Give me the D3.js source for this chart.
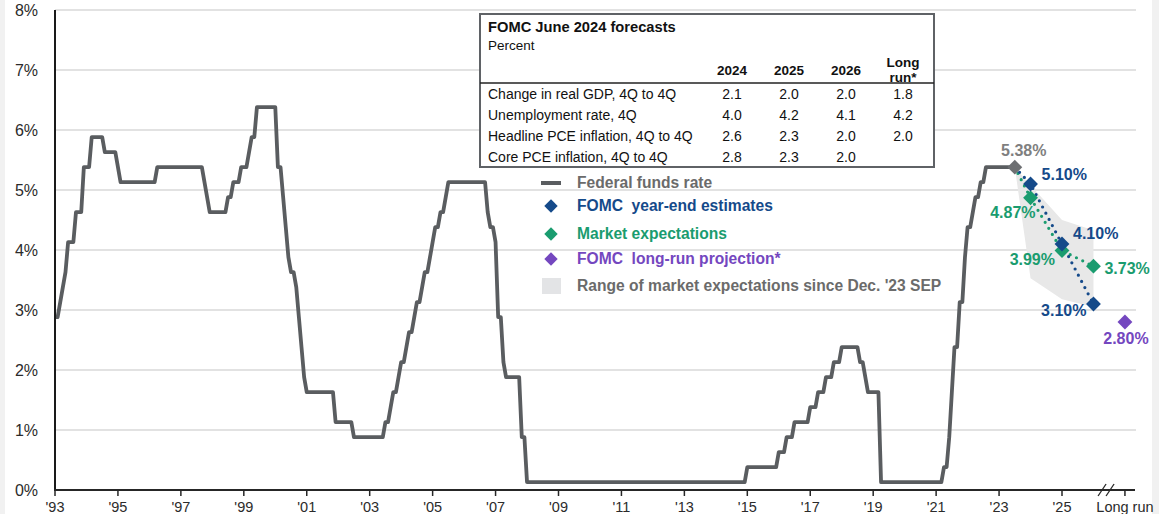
<!DOCTYPE html>
<html>
<head>
<meta charset="utf-8">
<script src="https://cdn.jsdelivr.net/npm/d3@7"></script>
<style>
  html, body { margin: 0; padding: 0; background: #fff; }
  svg { display: block; font-family: "Liberation Sans", Arial, sans-serif; }
</style>
</head>
<body>
<svg id="chart"></svg>
<script>
// Federal funds rate (midpoint of target), month of each change and level after it
const ffrMonths = [
  '1993-12', '1994-02', '1994-03', '1994-04', '1994-05', '1994-08', '1994-11',
  '1995-02', '1995-07', '1995-12', '1996-01', '1997-03', '1998-09', '1998-10',
  '1998-11', '1999-06', '1999-08', '1999-11', '2000-02', '2000-03', '2000-05',
  '2001-01', '2001-03', '2001-04', '2001-05', '2001-06', '2001-08', '2001-09',
  '2001-10', '2001-11', '2001-12', '2002-11', '2003-06', '2004-06', '2004-08',
  '2004-09', '2004-11', '2004-12', '2005-02', '2005-03', '2005-05', '2005-06',
  '2005-08', '2005-09', '2005-11', '2005-12', '2006-01', '2006-03', '2006-05',
  '2006-06', '2007-09', '2007-10', '2007-12', '2008-01', '2008-03', '2008-04',
  '2008-10', '2008-12', '2015-12', '2016-12', '2017-03', '2017-06', '2017-12',
  '2018-03', '2018-06', '2018-09', '2018-12', '2019-07', '2019-09', '2019-10',
  '2020-03', '2022-03', '2022-05', '2022-06', '2022-07', '2022-09', '2022-11',
  '2022-12', '2023-02', '2023-03', '2023-05', '2023-07'
];
const ffrLevels = [
  2.88, 3.13, 3.38, 3.63, 4.13, 4.63, 5.38,
  5.88, 5.63, 5.38, 5.13, 5.38, 5.13, 4.88,
  4.63, 4.88, 5.13, 5.38, 5.63, 5.88, 6.38,
  5.38, 4.88, 4.38, 3.88, 3.63, 3.38, 2.88,
  2.38, 1.88, 1.63, 1.13, 0.88, 1.13, 1.38,
  1.63, 1.88, 2.13, 2.38, 2.63, 2.88, 3.13,
  3.38, 3.63, 3.88, 4.13, 4.38, 4.63, 4.88,
  5.13, 4.63, 4.38, 4.13, 2.88, 2.13, 1.88,
  0.88, 0.13, 0.38, 0.63, 0.88, 1.13, 1.38,
  1.63, 1.88, 2.13, 2.38, 2.13, 1.88, 1.63,
  0.13, 0.38, 0.88, 1.63, 2.38, 3.13, 3.88,
  4.38, 4.63, 4.88, 5.13, 5.38
];
const ffrLastMonth = '2024-06';
const ffrLast = 5.38;

// projections (year-end)
const projMonths = ['2024-12', '2025-12', '2026-12'];
const fomcEstimates = [5.10, 4.10, 3.10];
const marketExpect = [4.87, 3.99, 3.73];
const longRunValue = 2.80;

// range of market expectations since Dec. '23 SEP
const rangeMonths = ['2024-06', '2024-12', '2025-12', '2026-12'];
const rangeHigh = [5.38, 5.08, 4.50, 4.33];
const rangeLow = [5.38, 3.53, 3.18, 3.05];

// axes
const yTicks = [0, 1, 2, 3, 4, 5, 6, 7, 8];
const xTickYears = [1993, 1995, 1997, 1999, 2001, 2003, 2005, 2007, 2009, 2011,
  2013, 2015, 2017, 2019, 2021, 2023, 2025];
const longRunLabel = 'Long run';

// table
const tableTitle = 'FOMC June 2024 forecasts';
const tableUnit = 'Percent';
const tableCols = ['2024', '2025', '2026', 'Long run*'];
const tableRows = ['Change in real GDP, 4Q to 4Q', 'Unemployment rate, 4Q',
  'Headline PCE inflation, 4Q to 4Q', 'Core PCE inflation, 4Q to 4Q'];
const tableValues = [
  ['2.1', '2.0', '2.0', '1.8'],
  ['4.0', '4.2', '4.1', '4.2'],
  ['2.6', '2.3', '2.0', '2.0'],
  ['2.8', '2.3', '2.0', '']
];

// legend
const legendItems = [
  { label: 'Federal funds rate', kind: 'line', color: '#5a5d60', text: '#6b6b6b' },
  { label: 'FOMC  year-end estimates', kind: 'diamond', color: '#154a8a', text: '#154a8a' },
  { label: 'Market expectations', kind: 'diamond', color: '#1a9c6f', text: '#1a9c6f' },
  { label: 'FOMC  long-run projection*', kind: 'diamond', color: '#7447bf', text: '#7447bf' },
  { label: "Range of market expectations since Dec. '23 SEP", kind: 'box', color: '#e3e4e6', text: '#6b6b6b' }
];

const W = 1159, H = 514;
const colors = { ffr: '#5a5d60', fomc: '#154a8a', market: '#1a9c6f', longRun: '#7447bf', range: '#e8e8e8', grid: '#d9d9d9' };

// month "YYYY-MM" -> decimal year at month end
const monthPos = s => {
  const [y, m] = s.split('-').map(Number);
  return y + m / 12;
};
const longRunPos = 2028;

const svg = d3.select('#chart').attr('width', W).attr('height', H);

svg.append('rect').attr('width', W).attr('height', H).attr('fill', '#f1f1f1');
svg.append('rect').attr('x', 5).attr('width', 1147).attr('height', H).attr('fill', '#fff');

const x = d3.scaleLinear().domain([1994, 2026]).range([55, 1062]);
const y = d3.scaleLinear().domain([0, 8]).range([490, 10]);

// gridlines
svg.append('g').selectAll('line')
  .data(yTicks.filter(d => d > 0))
  .enter().append('line')
    .attr('x1', x(1994)).attr('x2', 1136)
    .attr('y1', d => y(d)).attr('y2', d => y(d))
    .attr('stroke', colors.grid).attr('stroke-width', 1.3);

// y labels
svg.append('g').selectAll('text')
  .data(yTicks)
  .enter().append('text')
    .attr('x', 38).attr('y', d => y(d))
    .attr('dy', '0.35em')
    .attr('text-anchor', 'end')
    .attr('font-size', 16)
    .attr('fill', '#2b2b2b')
    .text(d => d + '%');

// range polygon
const rangePts = rangeMonths.map((m, i) => [x(monthPos(m)), y(rangeLow[i])])
  .concat(rangeMonths.map((m, i) => [x(monthPos(m)), y(rangeHigh[i])]).reverse());
svg.append('path')
  .attr('d', d3.line()(rangePts) + 'Z')
  .attr('fill', colors.range);

// fed funds line: hold each level until the month before the next change
const ffrPts = [[monthPos(ffrMonths[0]), ffrLevels[0]]];
for (let i = 1; i < ffrMonths.length; i++) {
  const t = monthPos(ffrMonths[i]);
  ffrPts.push([t - 1 / 12, ffrLevels[i - 1]]);
  ffrPts.push([t, ffrLevels[i]]);
}
ffrPts.push([monthPos(ffrLastMonth), ffrLast]);

svg.append('path')
  .attr('d', d3.line().x(d => x(d[0])).y(d => y(d[1]))(ffrPts))
  .attr('fill', 'none')
  .attr('stroke', colors.ffr)
  .attr('stroke-width', 3.8)
  .attr('stroke-linejoin', 'round');

// axes lines
svg.append('line')
  .attr('x1', x(1994)).attr('x2', x(1994))
  .attr('y1', y(8)).attr('y2', y(0) + 1)
  .attr('stroke', '#1a1a1a').attr('stroke-width', 2);
svg.append('line')
  .attr('x1', x(1994) - 1).attr('x2', 1135)
  .attr('y1', y(0)).attr('y2', y(0))
  .attr('stroke', '#262626').attr('stroke-width', 2.2);

const xTicks = svg.append('g').selectAll('g')
  .data(xTickYears)
  .enter().append('g')
    .attr('transform', d => `translate(${x(d + 1)},${y(0)})`);
xTicks.append('line').attr('y2', 6).attr('stroke', '#262626').attr('stroke-width', 1.5);
xTicks.append('text')
  .attr('y', 17).attr('dy', '0.35em')
  .attr('text-anchor', 'middle')
  .attr('font-size', 14.5)
  .attr('fill', '#2b2b2b')
  .text(d => "'" + String(d % 100).padStart(2, '0'));

// long run tick and axis break
const lrx = x(longRunPos);
svg.append('line').attr('x1', lrx).attr('x2', lrx).attr('y1', y(0)).attr('y2', y(0) + 6)
  .attr('stroke', '#262626').attr('stroke-width', 1.5);
svg.append('text')
  .attr('x', lrx).attr('y', y(0) + 17).attr('dy', '0.35em')
  .attr('text-anchor', 'middle').attr('font-size', 14.5).attr('fill', '#2b2b2b')
  .text(longRunLabel);
const bx = x(2027.4);
[-4, 4].forEach(o => {
  svg.append('line')
    .attr('x1', bx + o - 4).attr('y1', y(0) + 6)
    .attr('x2', bx + o + 4).attr('y2', y(0) - 6)
    .attr('stroke', '#262626').attr('stroke-width', 1.3);
});

// dotted projection lines
const startPt = [monthPos(ffrLastMonth), ffrLast];
const dotted = (vals, color) => {
  const pts = [startPt].concat(projMonths.map((m, i) => [monthPos(m), vals[i]]));
  svg.append('path')
    .attr('d', d3.line().x(d => x(d[0])).y(d => y(d[1]))(pts))
    .attr('fill', 'none')
    .attr('stroke', color)
    .attr('stroke-width', 3.2)
    .attr('stroke-linecap', 'round')
    .attr('stroke-dasharray', '0 7');
};
dotted(marketExpect, colors.market);
dotted(fomcEstimates, colors.fomc);

const diamond = d3.symbol().type(d3.symbolSquare);
const drawDiamond = (cx, cy, size, color) => {
  svg.append('path')
    .attr('d', diamond.size(size * size)())
    .attr('transform', `translate(${cx},${cy}) rotate(45)`)
    .attr('fill', color);
};

drawDiamond(x(startPt[0]), y(startPt[1]), 10.5, '#6d6f72');
projMonths.forEach((m, i) => drawDiamond(x(monthPos(m)), y(marketExpect[i]), 10.5, colors.market));
projMonths.forEach((m, i) => drawDiamond(x(monthPos(m)), y(fomcEstimates[i]), 10.5, colors.fomc));
drawDiamond(lrx, y(longRunValue), 10.5, colors.longRun);

// value labels
const fmt = v => v.toFixed(2) + '%';
const label = (px, py, dx, dy, anchor, color, txt) => {
  svg.append('text')
    .attr('x', px + dx).attr('y', py + dy).attr('dy', '0.35em')
    .attr('text-anchor', anchor)
    .attr('font-size', 16).attr('font-weight', 'bold')
    .attr('fill', color)
    .text(txt);
};
label(x(startPt[0]), y(startPt[1]), 9, -17, 'middle', '#7f7f7f', fmt(ffrLast));
const fomcOff = [[11, -10, 'start'], [11, -11, 'start'], [-7, 6, 'end']];
const mktOff = [[5, 15, 'end'], [-7, 9, 'end'], [11, 2, 'start']];
projMonths.forEach((m, i) => {
  const px = x(monthPos(m));
  label(px, y(fomcEstimates[i]), fomcOff[i][0], fomcOff[i][1], fomcOff[i][2], colors.fomc, fmt(fomcEstimates[i]));
  label(px, y(marketExpect[i]), mktOff[i][0], mktOff[i][1], mktOff[i][2], colors.market, fmt(marketExpect[i]));
});
label(lrx, y(longRunValue), 1, 16, 'middle', colors.longRun, fmt(longRunValue));

// forecast table
const tb = svg.append('g');
tb.append('rect')
  .attr('x', 480).attr('y', 14).attr('width', 454).attr('height', 153)
  .attr('fill', '#fff').attr('stroke', '#5f6266').attr('stroke-width', 2);
tb.append('text').attr('x', 488).attr('y', 27).attr('dy', '0.35em')
  .attr('font-size', 14.7).attr('font-weight', 'bold').attr('fill', '#111').text(tableTitle);
tb.append('text').attr('x', 488).attr('y', 45).attr('dy', '0.35em')
  .attr('font-size', 13.5).attr('fill', '#111').text(tableUnit);
const cx = d3.scalePoint().domain(tableCols).range([732, 903]);
tableCols.forEach(c => {
  const parts = c === 'Long run*' ? ['Long', 'run*'] : [c];
  parts.forEach((p, j) => {
    tb.append('text')
      .attr('x', cx(c)).attr('y', parts.length > 1 ? 62 + j * 15 : 70).attr('dy', '0.35em')
      .attr('text-anchor', 'middle')
      .attr('font-size', 13.5).attr('font-weight', 'bold').attr('fill', '#111')
      .text(p);
  });
});
tb.append('line').attr('x1', 480).attr('x2', 934).attr('y1', 83).attr('y2', 83)
  .attr('stroke', '#222').attr('stroke-width', 1.5);
const rowY = d3.scalePoint().domain(tableRows).range([94, 157]);
tableRows.forEach((r, i) => {
  tb.append('text').attr('x', 488).attr('y', rowY(r)).attr('dy', '0.35em')
    .attr('font-size', 14).attr('fill', '#111').text(r);
  tableCols.forEach((c, j) => {
    tb.append('text').attr('x', cx(c)).attr('y', rowY(r)).attr('dy', '0.35em')
      .attr('text-anchor', 'middle')
      .attr('font-size', 14).attr('fill', '#111').text(tableValues[i][j]);
  });
});

// legend
const legY = [183, 206, 234, 259, 286];
const lg = svg.append('g').selectAll('g')
  .data(legendItems)
  .enter().append('g')
    .attr('transform', (d, i) => `translate(551,${legY[i]})`);
lg.each(function(d) {
  const g = d3.select(this);
  if (d.kind === 'line') {
    g.append('line').attr('x1', -10).attr('x2', 10).attr('stroke', d.color).attr('stroke-width', 4);
  } else if (d.kind === 'diamond') {
    g.append('path').attr('d', diamond.size(90)()).attr('transform', 'rotate(45)').attr('fill', d.color);
  } else {
    g.append('rect').attr('x', -9).attr('y', -8).attr('width', 19).attr('height', 16).attr('fill', d.color);
  }
});
lg.append('text')
  .attr('x', 26).attr('dy', '0.35em')
  .attr('font-size', 15.6).attr('font-weight', 'bold')
  .attr('fill', d => d.text)
  .style('white-space', 'pre')
  .text(d => d.label);
</script>
</body>
</html>
